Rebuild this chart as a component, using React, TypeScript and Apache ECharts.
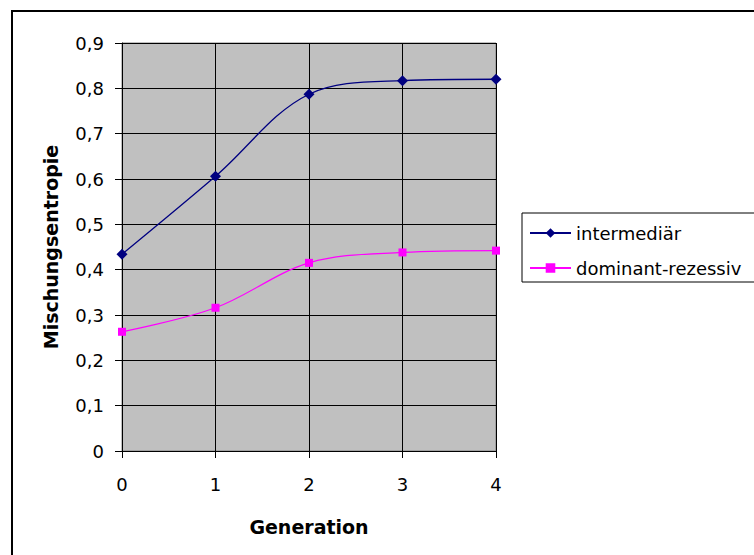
import React, { useEffect, useRef } from "react";
import * as echarts from "echarts";

const generations = ["0", "1", "2", "3", "4"];
const intermediaer = [0.434, 0.606, 0.787, 0.817, 0.82];
const dominantRezessiv = [0.263, 0.316, 0.415, 0.438, 0.442];
const seriesNames = ["intermediär", "dominant-rezessiv"];

const FONT = "DejaVu Sans";

export default function App() {
  const ref = useRef<HTMLDivElement>(null);
  useEffect(() => {
    if (!ref.current) return;
    const chart = echarts.init(ref.current, null, { renderer: "svg" });
    chart.setOption({
      animation: false,
      backgroundColor: "#ffffff",
      textStyle: { fontFamily: FONT },
      grid: {
        left: 122,
        right: 258,
        top: 43,
        bottom: 104,
        show: true,
        backgroundColor: "#c0c0c0",
        borderColor: "#808080",
        borderWidth: 1,
        containLabel: false,
      },
      graphic: [
        {
          type: "rect",
          shape: { x: 12, y: 11, width: 800, height: 600 },
          style: { fill: "none", stroke: "#000", lineWidth: 2 },
          silent: true,
          z: -1,
        },
      ],
      legend: {
        orient: "vertical",
        left: 522,
        top: 213,
        itemWidth: 41,
        itemHeight: 12,
        itemGap: 17,
        padding: [11, 60, 5, 7],
        borderColor: "#000",
        borderWidth: 1,
        backgroundColor: "#fff",
        textStyle: { fontFamily: FONT, fontSize: 18, color: "#000" },
        data: seriesNames,
      },
      xAxis: {
        type: "category",
        data: generations,
        boundaryGap: false,
        name: "Generation",
        nameLocation: "middle",
        nameGap: 66,
        nameTextStyle: { fontFamily: FONT, fontSize: 19, fontWeight: "bold", color: "#000" },
        axisLine: { lineStyle: { color: "#000", width: 1 } },
        axisTick: { show: true, length: 7, alignWithLabel: true, lineStyle: { color: "#000" } },
        axisLabel: { fontFamily: FONT, fontSize: 18, color: "#000", margin: 24 },
        splitLine: { show: true, lineStyle: { color: "#000", width: 1 } },
      },
      yAxis: {
        type: "value",
        min: 0,
        max: 0.9,
        interval: 0.1,
        name: "Mischungsentropie",
        nameLocation: "middle",
        nameGap: 62,
        nameTextStyle: { fontFamily: FONT, fontSize: 19, fontWeight: "bold", color: "#000" },
        axisLine: { show: true, lineStyle: { color: "#000", width: 1 } },
        axisTick: { show: true, length: 7, lineStyle: { color: "#000" } },
        axisLabel: {
          fontFamily: FONT,
          fontSize: 18,
          color: "#000",
          margin: 18,
          formatter: (v: number) => (v === 0 ? "0" : v.toFixed(1).replace(".", ",")),
        },
        splitLine: { show: true, lineStyle: { color: "#000", width: 1 } },
      },
      series: [
        {
          name: seriesNames[0],
          type: "line",
          data: intermediaer,
          smooth: 0.35,
          symbol: "diamond",
          symbolSize: 11,
          lineStyle: { color: "#000080", width: 1.3 },
          itemStyle: { color: "#000080" },
        },
        {
          name: seriesNames[1],
          type: "line",
          data: dominantRezessiv,
          smooth: 0.35,
          symbol: "rect",
          symbolSize: 8,
          lineStyle: { color: "#ff00ff", width: 1.3 },
          itemStyle: { color: "#ff00ff" },
        },
      ],
    });
    return () => chart.dispose();
  }, []);
  return (
    <div
      ref={ref}
      style={{ position: "fixed", left: 0, top: 0, width: 754, height: 555 }}
    />
  );
}
